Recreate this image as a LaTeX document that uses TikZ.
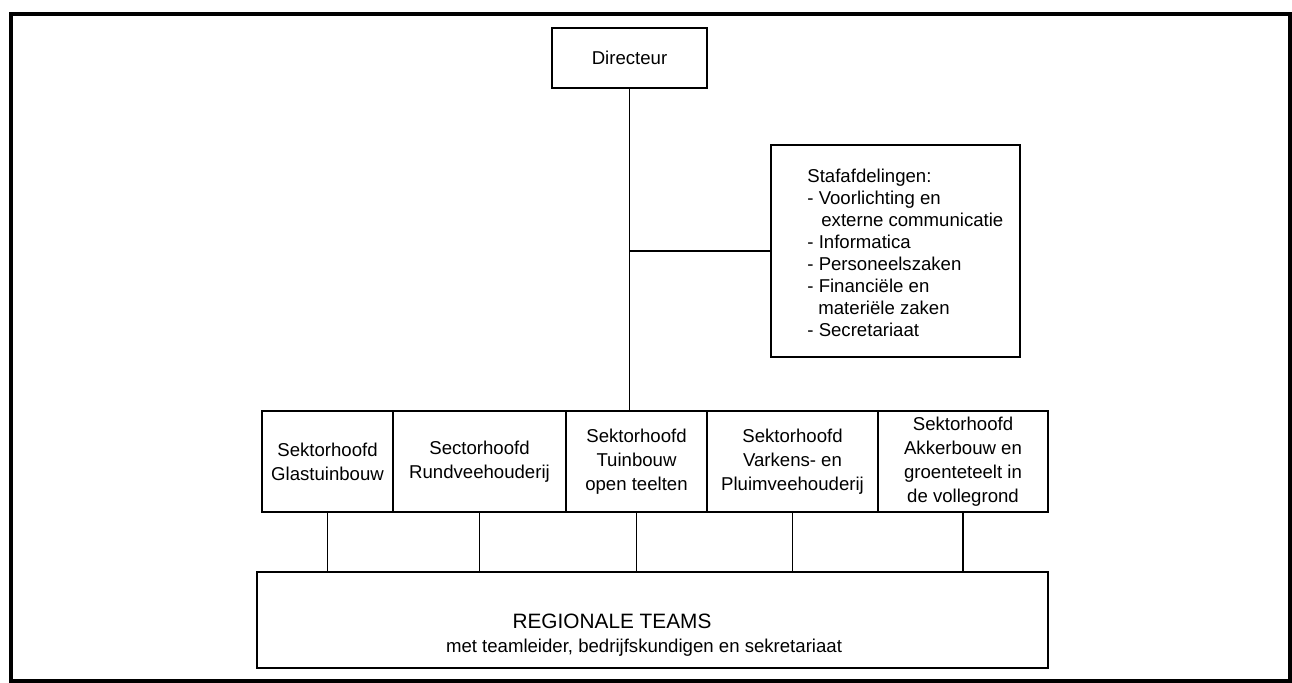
\documentclass[tikz,border=0pt]{standalone}
\usepackage{fontspec}
\setmainfont{Liberation Sans}
\begin{document}
\begin{tikzpicture}[x=0.5pt,y=-0.5pt,
  box/.style={draw, line width=0.9pt, inner sep=0pt, align=center,
    font=\fontsize{9.3}{12}\selectfont},
  plain/.style={inner sep=0pt, font=\fontsize{9.3}{11}\selectfont},
  conn/.style={line width=0.9pt}]
\useasboundingbox (0,0) rectangle (1292,683);
\draw[line width=1.6pt] (11,14) rectangle (1290,681);

\node[box, minimum width=77.5pt, minimum height=30pt] (dir) at (629.5,58) {Directeur};

\node[box, minimum width=124.5pt, minimum height=106pt] (staff) at (895.5,251) {};
\node[plain, anchor=west, align=left] (stafftxt) at (807,253)
  {Stafafdelingen:\\
   - Voorlichting en\\
   \hspace*{7pt}externe communicatie\\
   - Informatica\\
   - Personeelszaken\\
   - Financiële en\\
   \hspace*{5.5pt}materiële zaken\\
   - Secretariaat};

\node[box, minimum width=65.5pt, minimum height=50.5pt] (s1) at (327.5,461.5) {Sektorhoofd\\Glastuinbouw};
\node[box, minimum width=86.5pt, minimum height=50.5pt] (s2) at (479.5,461.5) {Sectorhoofd\\Rundveehouderij};
\node[box, minimum width=70.5pt, minimum height=50.5pt] (s3) at (636.5,461.5) {Sektorhoofd\\Tuinbouw\\open teelten};
\node[box, minimum width=85.5pt, minimum height=50.5pt] (s4) at (792.5,461.5) {Sektorhoofd\\Varkens- en\\Pluimveehouderij};
\node[box, minimum width=85pt, minimum height=50.5pt] (s5) at (963,461.5) {Sektorhoofd\\Akkerbouw en\\groenteteelt in\\de vollegrond};

\node[box, minimum width=395.5pt, minimum height=48pt] (reg) at (652.5,620) {};
\node[plain, font=\fontsize{10.4}{12}\selectfont] (regtitle) at (612,621) {REGIONALE TEAMS};
\node[plain] (regsub) at (644,648) {met teamleider, bedrijfskundigen en sekretariaat};

\draw[conn] (dir.south) -- (dir.south |- s3.north);
\coordinate (j) at (dir.south |- staff.west);
\draw[conn] (j) -- (staff.west);
\foreach \i in {1,...,5} {
  \draw[conn] (s\i.south) -- (s\i.south |- reg.north);
}
\end{tikzpicture}
\end{document}
